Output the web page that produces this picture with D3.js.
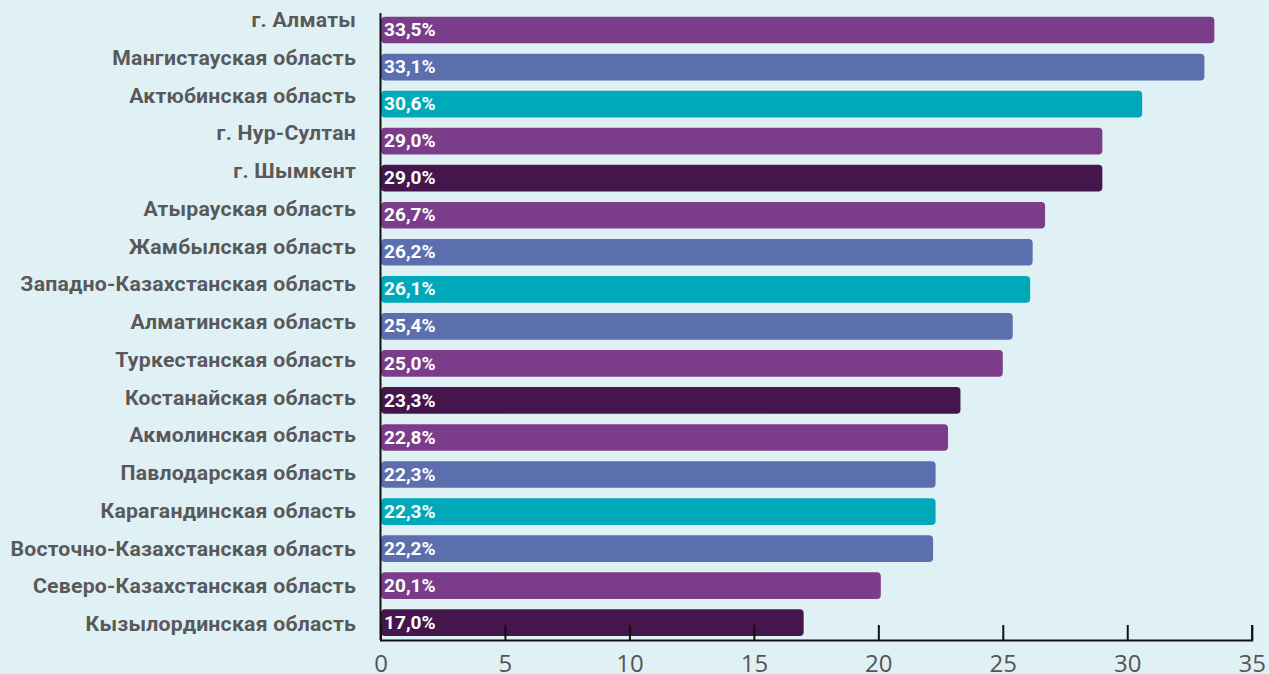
<!DOCTYPE html>
<html><head><meta charset="utf-8">
<script src="https://cdn.jsdelivr.net/npm/d3@7"></script>
<style>html,body{margin:0;padding:0;background:#e0f1f6;}svg{display:block;}</style>
</head><body>
<svg id="c" width="1269" height="674"></svg>
<script>
const categories = ["г. Алматы","Мангистауская область","Актюбинская область","г. Нур-Султан","г. Шымкент","Атырауская область","Жамбылская область","Западно-Казахстанская область","Алматинская область","Туркестанская область","Костанайская область","Акмолинская область","Павлодарская область","Карагандинская область","Восточно-Казахстанская область","Северо-Казахстанская область","Кызылординская область"];
const values = [33.5,33.1,30.6,29.0,29.0,26.7,26.2,26.1,25.4,25.0,23.3,22.8,22.3,22.3,22.2,20.1,17.0];
const colorKeys = ["p","b","t","p","d","p","b","t","b","p","d","p","b","t","b","p","d"];
const tickValues = [0,5,10,15,20,25,30,35];
const palette = {p:"#7b3d8a", b:"#5b6fae", t:"#00a9b9", d:"#45164b"};

const svg = d3.select("#c");
const x = d3.scaleLinear().domain([0,35]).range([380.5,1251.7]);
const y = d3.scaleBand().domain(categories).range([6.3,646.4]).padding(0.28);
const yLabel = d3.scalePoint().domain(categories).range([22,626]);

svg.append("g").selectAll("path").data(values).join("path")
  .attr("d",(v,i)=>{
    const x0=x(0)+0.5, x1=x(v), y0=y(categories[i]), h=y.bandwidth(), r=4;
    const p=d3.path();
    p.moveTo(x0+r,y0); p.lineTo(x1-r,y0); p.arcTo(x1,y0,x1,y0+r,r);
    p.lineTo(x1,y0+h-r); p.arcTo(x1,y0+h,x1-r,y0+h,r);
    p.lineTo(x0+r,y0+h); p.arcTo(x0,y0+h,x0,y0+h-r,r);
    p.lineTo(x0,y0+r); p.arcTo(x0,y0,x0+r,y0,r); p.closePath();
    return p.toString();
  })
  .attr("fill",(v,i)=>palette[colorKeys[i]]);

svg.append("g").selectAll("text").data(values).join("text")
  .attr("transform",(v,i)=>`translate(${x(0)+3.5},${y(categories[i])+y.bandwidth()/2+1.5}) scale(1.09,1)`)
  .attr("dominant-baseline","middle")
  .attr("font-family","Roboto").attr("font-weight","bold").attr("font-size",17.5)
  .attr("fill","#fff")
  .text(v=>v.toFixed(1).replace(".",",")+"%");

svg.append("g").selectAll("text").data(categories).join("text")
  .attr("transform",c=>`translate(356,${yLabel(c)}) scale(1.09,1)`)
  .attr("text-anchor","end").attr("dominant-baseline","middle")
  .attr("font-family","Roboto").attr("font-weight","bold").attr("font-size",19.5)
  .attr("letter-spacing",0.2)
  .attr("fill","#595959")
  .text(c=>c);

// y axis line
svg.append("line").attr("x1",380.5).attr("x2",380.5).attr("y1",13).attr("y2",640)
  .attr("stroke","#111").attr("stroke-width",2);

const xAxis = d3.axisBottom(x).tickValues(tickValues).tickSize(-15).tickPadding(0).tickFormat(d=>d);
const gx = svg.append("g").attr("transform","translate(0,640)").call(xAxis);
gx.select(".domain").attr("stroke","#111").attr("stroke-width",2);
gx.selectAll(".tick line").attr("stroke","#111").attr("stroke-width",2);
gx.selectAll(".tick text").attr("y",32).attr("dy",0)
  .attr("font-family","Open Sans").attr("font-size",24).attr("fill","#555");
</script>
</body></html>
